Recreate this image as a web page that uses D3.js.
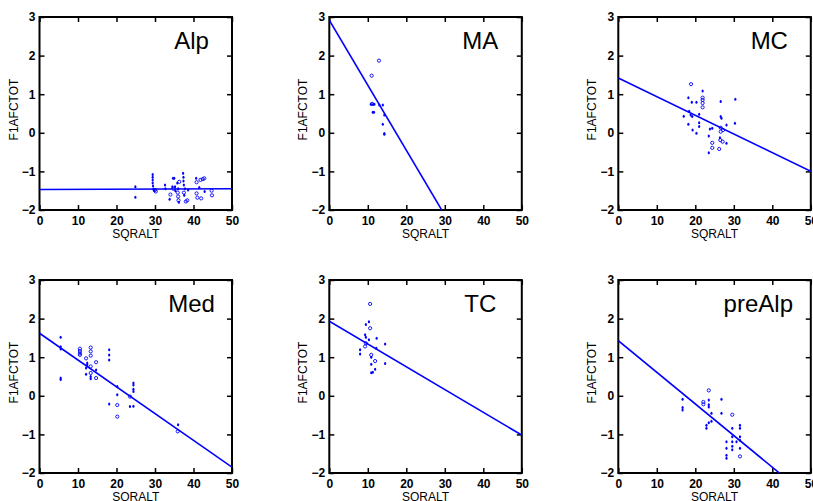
<!DOCTYPE html>
<html><head><meta charset="utf-8">
<script src="https://cdn.jsdelivr.net/npm/d3@7"></script>
<style>
body{margin:0;background:#fff;}
svg{display:block;}
.tick text{font-family:"Liberation Sans",Arial,sans-serif;font-size:12px;font-weight:bold;fill:#000;}
</style></head>
<body>
<svg id="c" width="813" height="501"></svg>
<script>
// ---------- data ----------
const panelNames = ["Alp","MA","MC","Med","TC","preAlp"];
const xTicks = [0,10,20,30,40,50];
const yTicks = [-2,-1,0,1,2,3];
const xTitle = "SQRALT";
const yTitle = "F1AFCTOT";
// regression lines: intercept and slope
const regIntercept = [-1.47, 2.92, 1.42, 1.62, 1.93, 1.43];
const regSlope     = [0.0004, -0.1685, -0.0484, -0.0694, -0.059, -0.082];
// points: [SQRALT, F1AFCTOT, open(1)/filled(0)]
const alpPts = [[24.9,-1.40,0],[24.9,-1.67,0],
 [29.4,-1.08,0],[29.4,-1.15,0],[29.4,-1.22,0],[29.4,-1.30,0],[29.5,-1.38,0],[29.6,-1.46,0],[29.8,-1.50,0],[30.2,-1.52,1],[30.0,-1.48,1],
 [32.6,-1.35,0],[32.7,-1.45,0],
 [33.8,-1.72,0],[34.0,-1.60,1],[34.5,-1.40,0],[34.7,-1.18,0],[35.0,-1.18,0],[34.8,-1.45,1],[35.2,-1.40,0],[35.3,-1.50,0],
 [35.8,-1.30,0],[35.9,-1.55,1],[36.0,-1.65,1],[36.1,-1.75,1],[36.2,-1.80,0],[36.3,-1.27,1],[36.0,-1.45,0],
 [37.3,-1.05,0],[37.4,-1.15,0],[37.4,-1.25,0],[37.5,-1.35,0],[37.5,-1.55,1],[37.6,-1.62,0],[37.8,-1.45,0],[38.0,-1.78,1],[38.4,-1.75,1],[38.6,-1.48,0],
 [40.7,-1.18,0],[40.8,-1.28,1],[40.8,-1.57,1],[41.0,-1.68,1],[41.5,-1.42,0],[42.0,-1.70,1],[41.8,-1.22,1],[42.4,-1.20,1],[42.8,-1.18,1],[42.9,-1.52,0],[44.7,-1.50,1],[44.8,-1.62,1]];
const maPts = [[12.9,1.87,1],[11.0,1.48,1],[10.8,0.74,0],[11.1,0.75,1],[11.4,0.74,0],[11.7,0.74,0],[13.0,0.72,0],[13.9,0.72,0],
 [11.3,0.53,0],[11.6,0.53,0],[14.3,0.46,0],[13.9,0.22,0],[14.3,-0.04,0],[14.3,-0.02,0]];
const mcPts = [[18.9,1.26,1],[21.9,1.08,0],[18.2,0.91,0],[19.1,0.79,0],[20.3,0.79,0],[21.9,0.91,1],[21.9,0.85,1],[21.9,0.77,1],[21.9,0.66,1],
 [26.6,0.81,0],[30.4,0.87,0],[18.4,0.56,0],[17.0,0.43,0],[18.8,0.46,0],[19.2,0.42,0],[21.0,0.48,0],[18.2,0.22,0],[21.0,0.26,0],[21.0,0.16,0],
 [19.3,0.07,0],[20.3,-0.01,0],[23.8,0.10,0],[24.4,0.12,0],[23.5,-0.08,0],[26.6,0.42,0],[26.8,0.38,0],[26.6,0.13,1],[26.6,0.03,1],[27.2,0.07,1],
 [28.1,0.20,0],[30.3,0.25,0],[26.4,-0.13,0],[26.5,-0.19,1],[27.1,-0.23,1],[28.1,-0.27,0],[24.4,-0.26,1],[24.4,-0.39,1],[26.2,-0.42,1],[23.5,-0.52,0]];
const medPts = [[5.5,1.52,0],[5.5,1.27,0],[5.5,1.21,0],[5.5,0.46,0],[5.5,0.42,0],
 [10.5,1.22,1],[10.5,1.16,1],[10.5,1.10,1],[10.5,1.06,1],[12.1,0.97,1],[13.3,1.25,1],[13.3,1.15,1],[13.3,1.04,1],
 [12.4,0.85,0],[12.4,0.80,0],[14.7,0.87,1],[12.1,0.72,0],[13.3,0.76,1],[13.3,0.59,1],[14.7,0.67,0],[12.1,0.56,0],[13.3,0.50,0],[13.3,0.44,0],[14.7,0.46,1],
 [18.1,1.19,0],[18.1,1.06,0],[18.1,0.93,0],[20.2,0.24,0],[20.2,0.03,0],[18.1,-0.21,0],[20.2,-0.24,1],[20.2,-0.54,1],
 [23.5,-0.02,1],[24.4,0.33,0],[24.4,0.28,0],[24.4,0.17,0],[24.4,0.11,0],[23.5,-0.28,0],[24.4,-0.27,0],[36.0,-0.75,0],[35.9,-0.92,1]];
const tcPts = [[10.6,2.38,1],[10.3,1.92,0],[9.5,1.85,0],[10.6,1.75,1],[9.3,1.58,0],[9.5,1.52,0],[12.3,1.49,0],[10.3,1.45,0],[9.5,1.36,1],
 [14.5,1.34,0],[9.3,1.28,1],[8.0,1.19,0],[8.0,1.08,0],[12.2,1.23,0],[10.9,1.06,1],[10.9,1.00,0],[11.9,0.90,1],[10.9,0.82,0],[14.5,0.84,0],
 [11.9,0.69,0],[10.9,0.60,0],[11.3,0.61,0]];
const preAlpPts = [[16.7,-0.09,0],[16.7,-0.30,0],[16.7,-0.37,0],[22.1,-0.16,1],[22.1,-0.22,1],[23.5,0.14,1],[23.5,-0.11,0],[23.5,-0.23,0],[23.5,-0.29,0],
 [24.2,-0.45,0],[24.2,-0.66,0],[22.9,-0.76,0],[22.9,-0.84,0],[23.5,-0.70,0],[26.8,-0.09,0],[26.8,-0.45,0],[29.6,-0.49,1],[29.6,-0.84,0],
 [29.6,-1.06,0],[29.6,-1.19,0],[29.6,-1.31,0],[29.6,-1.40,0],[28.1,-1.19,0],[28.1,-1.36,0],[28.1,-1.54,0],[28.1,-1.62,0],
 [31.6,-0.76,0],[31.6,-0.84,0],[31.6,-1.06,0],[31.6,-1.15,0],[31.6,-1.36,0],[31.6,-1.57,1],[30.7,-1.19,0]];
const allPts = [alpPts, maPts, mcPts, medPts, tcPts, preAlpPts];

// ---------- layout ----------
const colLeft = [39.5, 329.3, 618.3];
const rowTop = [17, 280];
const pw = 192.5, ph = 193;
const titleCenter = [152, 151, 151, 152, 151, 140];
const blue = "#0000ff";
const font = '"Liberation Sans",Arial,sans-serif';

const svg = d3.select("#c");

panelNames.forEach((name, i) => {
  const L = colLeft[i % 3], T = rowTop[Math.floor(i / 3)];
  const x = d3.scaleLinear().domain([0, 50]).range([L, L + pw]);
  const y = d3.scaleLinear().domain([-2, 3]).range([T + ph, T]);
  const g = svg.append("g");

  const clipId = "clip" + i;
  svg.append("clipPath").attr("id", clipId).append("rect")
    .attr("x", L).attr("y", T).attr("width", pw).attr("height", ph);

  // axes
  const ax = g.append("g").attr("transform", `translate(0,${T + ph})`)
    .call(d3.axisBottom(x).tickValues(xTicks).tickSize(-5).tickSizeOuter(0).tickPadding(9).tickFormat(d3.format("d")));
  const ay = g.append("g").attr("transform", `translate(${L},0)`)
    .call(d3.axisLeft(y).tickValues(yTicks).tickSize(-5).tickSizeOuter(0).tickPadding(4).tickFormat(d3.format("d")));
  const at = g.append("g").attr("transform", `translate(0,${T})`)
    .call(d3.axisTop(x).tickValues(xTicks).tickSize(-5).tickSizeOuter(0).tickFormat(""));
  const ar = g.append("g").attr("transform", `translate(${L + pw},0)`)
    .call(d3.axisRight(y).tickValues(yTicks).tickSize(-5).tickSizeOuter(0).tickFormat(""));
  [ax, ay, at, ar].forEach(a => {
    a.select(".domain").remove();
    a.selectAll(".tick line").attr("stroke", "#000").attr("stroke-width", 1.5);
  });
  ax.selectAll(".tick text").attr("dy", "0.5em");

  // frame
  g.append("rect").attr("x", L).attr("y", T).attr("width", pw).attr("height", ph)
    .attr("fill", "none").attr("stroke", "#000").attr("stroke-width", 2);

  // axis titles
  g.append("text").attr("x", L + pw / 2).attr("y", T + ph + 28)
    .attr("text-anchor", "middle").attr("font-family", font).attr("font-size", 12)
    .text(xTitle);
  g.append("text").attr("transform", `translate(${L - 22},${T + ph / 2 - 4}) rotate(-90)`)
    .attr("text-anchor", "middle").attr("font-family", font).attr("font-size", 12)
    .text(yTitle);

  // regression line
  g.append("line").attr("clip-path", `url(#${clipId})`)
    .attr("x1", x(0)).attr("y1", y(regIntercept[i]))
    .attr("x2", x(50)).attr("y2", y(regIntercept[i] + regSlope[i] * 50))
    .attr("stroke", blue).attr("stroke-width", 1.6);

  // points
  const pts = allPts[i];
  g.selectAll("circle.o").data(pts.filter(d => d[2] === 1)).join("circle")
    .attr("cx", d => x(d[0])).attr("cy", d => y(d[1])).attr("r", 1.6)
    .attr("fill", "none").attr("stroke", blue).attr("stroke-width", 0.9);
  g.selectAll("ellipse.f").data(pts.filter(d => d[2] === 0)).join("ellipse")
    .attr("cx", d => x(d[0])).attr("cy", d => y(d[1])).attr("rx", 1.1).attr("ry", 1.5)
    .attr("fill", blue);

  // panel title
  g.append("text").attr("x", L + titleCenter[i]).attr("y", T + 32)
    .attr("text-anchor", "middle").attr("font-family", font).attr("font-size", 24)
    .text(name);
});
</script>
</body></html>
